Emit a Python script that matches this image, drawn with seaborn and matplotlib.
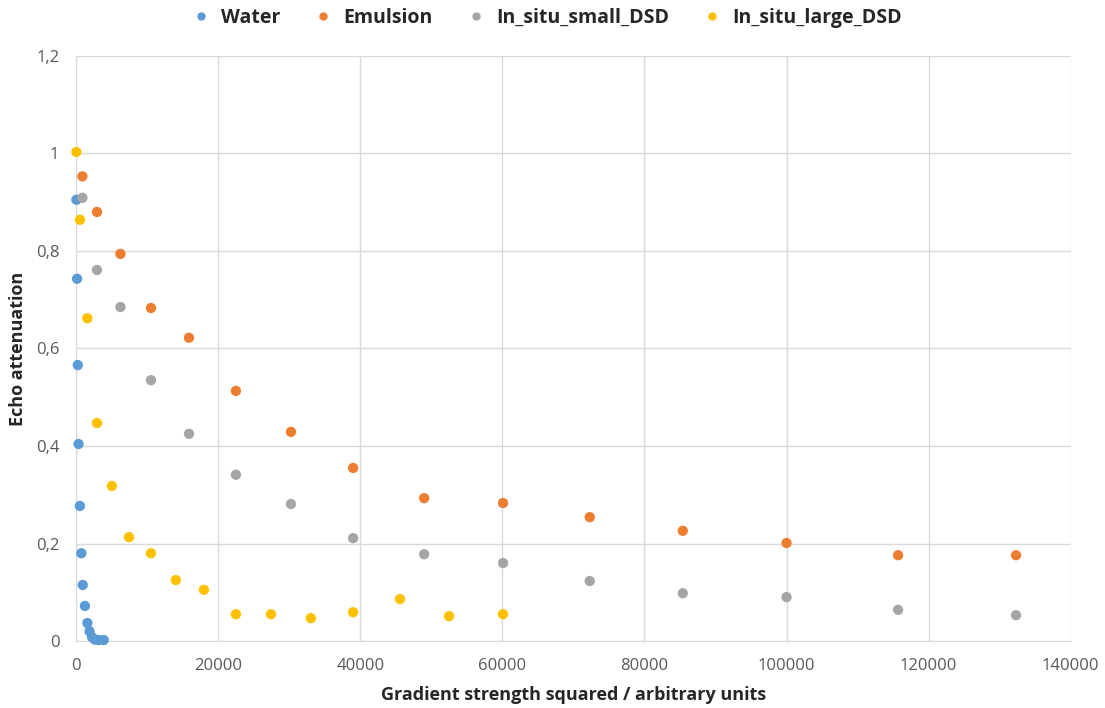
import numpy as np
import pandas as pd
import matplotlib
matplotlib.use("Agg")
import matplotlib.pyplot as plt
import seaborn as sns
from matplotlib.ticker import FuncFormatter

# ---- data ----
water_x = [50, 150, 250, 350, 550, 750, 950, 1250, 1600, 1900, 2250, 2650, 3150, 3900]
water_y = [0.905, 0.743, 0.566, 0.404, 0.277, 0.180, 0.115, 0.072, 0.037, 0.020, 0.008, 0.003, 0.002, 0.002]

emul_x = [900, 2950, 6250, 10550, 15900, 22500, 30250, 39000, 49000, 60100,
          72300, 85400, 100000, 115700, 132300]
emul_y = [0.953, 0.880, 0.794, 0.683, 0.622, 0.513, 0.429, 0.355, 0.293, 0.283,
          0.254, 0.226, 0.201, 0.176, 0.176]

small_x = emul_x
small_y = [0.909, 0.761, 0.685, 0.535, 0.425, 0.341, 0.281, 0.211, 0.178, 0.160,
           0.123, 0.098, 0.090, 0.064, 0.053]

large_x = [50, 560, 1590, 2950, 5050, 7450, 10550, 14050, 18000, 22500,
           27450, 33050, 39000, 45600, 52500, 60100]
large_y = [1.003, 0.864, 0.662, 0.447, 0.318, 0.213, 0.180, 0.125, 0.105, 0.055,
           0.055, 0.047, 0.059, 0.086, 0.051, 0.055]

series = ["Water", "Emulsion", "In_situ_small_DSD", "In_situ_large_DSD"]
colors = ["#5B9BD5", "#ED7D31", "#A5A5A5", "#FFC000"]

df = pd.concat([
    pd.DataFrame({"x": water_x, "y": water_y, "series": "Water"}),
    pd.DataFrame({"x": emul_x, "y": emul_y, "series": "Emulsion"}),
    pd.DataFrame({"x": small_x, "y": small_y, "series": "In_situ_small_DSD"}),
    pd.DataFrame({"x": large_x, "y": large_y, "series": "In_situ_large_DSD"}),
], ignore_index=True)

sns.set_style("white")
plt.rcParams["font.family"] = ["Open Sans", "DejaVu Sans"]

fig = plt.figure(figsize=(11.05, 7.08), dpi=100)
ax = fig.add_axes([0.0688, 0.0946, 0.9002, 0.8264])

sns.scatterplot(data=df, x="x", y="y", hue="series", hue_order=series,
                palette=colors, s=55, edgecolor="none", ax=ax, legend=False,
                zorder=3, clip_on=False)

ax.set_xlim(0, 140000)
ax.set_ylim(0, 1.2)
ax.set_xticks(np.arange(0, 140001, 20000))
ax.set_yticks(np.arange(0, 1.21, 0.2))
ax.xaxis.set_major_formatter(FuncFormatter(lambda v, p: f"{int(v)}"))
ax.yaxis.set_major_formatter(FuncFormatter(
    lambda v, p: "0" if abs(v) < 1e-9 else ("1" if abs(v - 1) < 1e-9 else f"{v:.1f}".replace(".", ","))))
ax.tick_params(axis="both", labelsize=12, colors="#595959", length=0)
ax.tick_params(axis="x", pad=12)
ax.tick_params(axis="y", pad=12)
ax.grid(True, color="#D9D9D9", linewidth=1)
for side in ["top", "right"]:
    ax.spines[side].set_visible(False)
ax.spines["left"].set_color("#D9D9D9")
ax.spines["bottom"].set_color("#D9D9D9")

ax.set_xlabel("Gradient strength squared / arbitrary units", fontsize=13, fontweight="bold", va="center")
ax.set_ylabel("Echo attenuation", fontsize=13, fontweight="bold", va="center")
ax.xaxis.set_label_coords(0.5, -0.092)
ax.yaxis.set_label_coords(-0.058, 0.5)

handles = [plt.Line2D([], [], marker="o", linestyle="none", color=c, markersize=5) for c in colors]
fig.legend(handles, series, loc="upper center", bbox_to_anchor=(0.49, 1.014), ncol=4, frameon=False,
           prop={"size": 14, "weight": "bold"}, handletextpad=0.05, columnspacing=1.2)

fig.savefig("out.png", dpi=100)
